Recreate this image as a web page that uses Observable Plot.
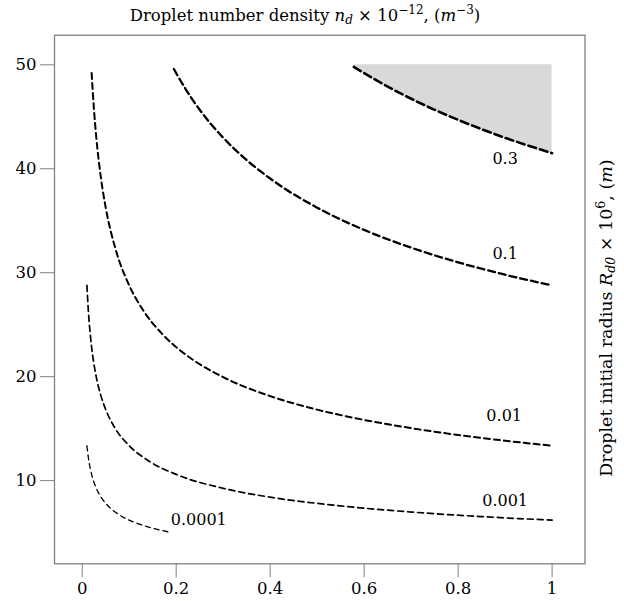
<!DOCTYPE html>
<html><head><meta charset="utf-8">
<script src="https://cdn.jsdelivr.net/npm/d3@7"></script>
<script src="https://cdn.jsdelivr.net/npm/@observablehq/plot@0.6"></script>
<style>body{margin:0;background:#fff}</style>
</head><body><div id="chart"></div>
<script>
// Contour levels (droplet number density n_d x 1e-12)
const levels = ["0.3", "0.1", "0.01", "0.001", "0.0001"];

// Points (x, R_d0 x 1e6)
const x_03 = [0.578, 0.62, 0.66, 0.70, 0.75, 0.80, 0.85, 0.90, 0.95, 1.00];
const y_03 = [49.8, 48.67, 47.66, 46.74, 45.67, 44.71, 43.81, 42.98, 42.22, 41.5];

const x_01 = [0.195, 0.22, 0.25, 0.30, 0.35, 0.40, 0.50, 0.60, 0.70, 0.80, 0.90, 1.00];
const y_01 = [49.6, 47.67, 45.68, 42.99, 40.84, 39.06, 36.26, 34.12, 32.41, 31.0, 29.81, 28.78];

const x_001 = [0.02, 0.025, 0.03, 0.04, 0.05, 0.07, 0.10, 0.13, 0.17, 0.22, 0.30, 0.40, 0.50, 0.60, 0.70, 0.80, 0.90, 1.00];
const y_001 = [49.22, 45.69, 43.0, 39.06, 36.26, 32.42, 28.78, 26.37, 24.12, 22.13, 19.96, 18.13, 16.83, 15.84, 15.05, 14.39, 13.84, 13.36];

const x_0001 = [0.01, 0.013, 0.017, 0.022, 0.03, 0.04, 0.05, 0.07, 0.10, 0.14, 0.20, 0.30, 0.40, 0.55, 0.70, 0.85, 1.00];
const y_0001 = [28.78, 26.37, 24.12, 22.13, 19.96, 18.13, 16.83, 15.04, 13.36, 11.94, 10.6, 9.26, 8.41, 7.57, 6.98, 6.54, 6.2];

const x_00001 = [0.01, 0.013, 0.017, 0.022, 0.03, 0.04, 0.05, 0.07, 0.09, 0.12, 0.15, 0.19];
const y_00001 = [13.36, 12.24, 11.19, 10.27, 9.26, 8.42, 7.81, 6.98, 6.42, 5.84, 5.42, 5.01];

// Upper bound of the shaded region (R = 50)
const shadeTop = 50;

// Contour label positions
const labelText = ["0.3", "0.1", "0.01", "0.001", "0.0001"];
const labelX = [0.90, 0.90, 0.898, 0.90, 0.248];
const labelY = [41.0, 31.8, 16.2, 8.1, 6.2];

// Axis ticks
const xTicks = [0, 0.2, 0.4, 0.6, 0.8, 1];
const xTickLabels = ["0", "0.2", "0.4", "0.6", "0.8", "1"];
const yTicks = [10, 20, 30, 40, 50];

const xs = [x_03, x_01, x_001, x_0001, x_00001];
const ys = [y_03, y_01, y_001, y_0001, y_00001];
const rows = levels.flatMap((lev, i) => xs[i].map((x, j) => ({level: lev, x, y: ys[i][j]})));
const shade = rows.filter(d => d.level === "0.3");
const labels = labelText.map((t, i) => ({text: t, x: labelX[i], y: labelY[i]}));

const styleFor = {
  "0.3": {w: 2.6, d: "8,4"},
  "0.1": {w: 2.3, d: "7,4"},
  "0.01": {w: 2.0, d: "6,4"},
  "0.001": {w: 1.7, d: "6,4"},
  "0.0001": {w: 1.3, d: "5,4"}
};

const plot = Plot.plot({
  width: 624,
  height: 601,
  marginLeft: 54,
  marginRight: 39.5,
  marginTop: 34.7,
  marginBottom: 37.7,
  style: {fontFamily: "'DejaVu Serif', serif", fontSize: "16.5px", color: "black", background: "white"},
  x: {domain: [-0.059, 1.070]},
  y: {domain: [2.0, 52.85]},
  marks: [
    Plot.areaY(shade, {x: "x", y1: "y", y2: () => shadeTop, fill: "#d9d9d9", curve: "monotone-x"}),
    ...levels.map(lev => Plot.line(rows.filter(d => d.level === lev), {
      x: "x", y: "y", curve: "monotone-x", stroke: "black",
      strokeWidth: styleFor[lev].w, strokeDasharray: styleFor[lev].d
    })),
    Plot.text(labels, {x: "x", y: "y", text: "text", fontSize: 16, fill: "black"}),
    Plot.frame({stroke: "#808080", strokeWidth: 1.3}),
    Plot.axisX({ticks: xTicks, tickFormat: (d) => xTickLabels[xTicks.indexOf(d)], tickSize: 14, tickPadding: 4, stroke: "#808080", fill: "black", fontSize: 16.5, label: null}),
    Plot.axisY({ticks: yTicks, tickFormat: d => String(d), tickSize: 14, tickPadding: 4, stroke: "#808080", fill: "black", fontSize: 16.5, label: null})
  ]
});
document.getElementById("chart").appendChild(plot);

// Title and right-side label with math-style sub/superscripts
const svg = d3.select(plot);
function richText(g, parts, small) {
  parts.forEach(p => {
    const t = g.append("tspan").text(p.t);
    if (p.i) t.attr("font-style", "italic");
    if (p.s) t.attr("font-size", small);
    if (p.dy) t.attr("dy", p.dy);
  });
}
const title = svg.append("text").attr("x", 305).attr("y", 21).attr("text-anchor", "middle")
  .attr("font-size", "16.5px").attr("fill", "black");
richText(title, [
  {t: "Droplet number density "}, {t: "n", i: true}, {t: "d", i: true, s: true, dy: 3},
  {t: " × 10", dy: -3}, {t: "−12", s: true, dy: -7}, {t: ", (", dy: 7}, {t: "m", i: true},
  {t: "−3", s: true, dy: -7}, {t: ")", dy: 7}
], "12px");
const ylab = svg.append("text").attr("transform", "translate(612,318) rotate(-90)")
  .attr("text-anchor", "middle").attr("font-size", "17.5px").attr("fill", "black");
richText(ylab, [
  {t: "Droplet initial radius "}, {t: "R", i: true}, {t: "d0", i: true, s: true, dy: 3},
  {t: " × 10", dy: -3}, {t: "6", s: true, dy: -7}, {t: ", (", dy: 7}, {t: "m", i: true}, {t: ")"}
], "12.5px");
</script>
</body></html>
